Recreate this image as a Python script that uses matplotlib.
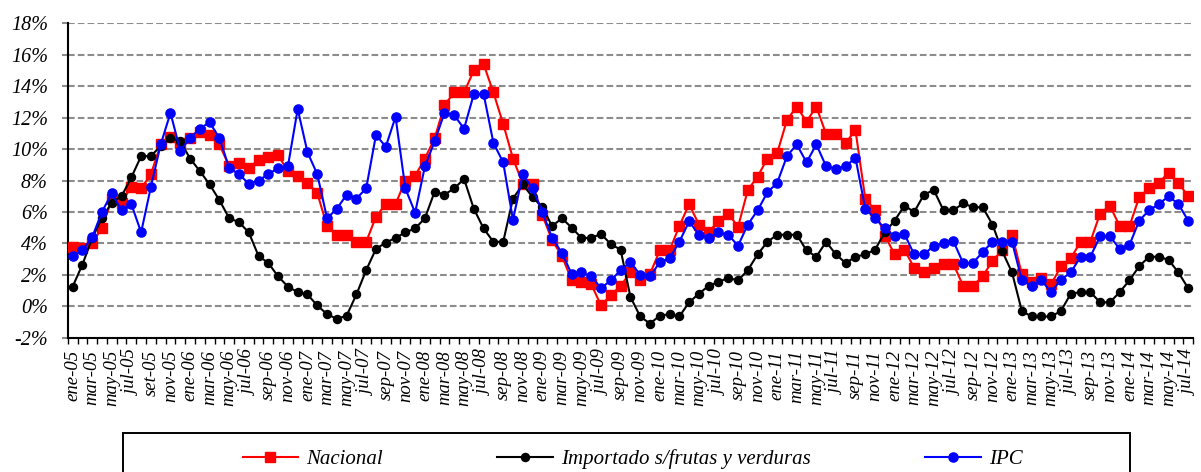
import matplotlib
matplotlib.use('Agg')
import matplotlib.pyplot as plt
from matplotlib.patches import Rectangle

nacional = [3.8, 3.7, 4.0, 5.0, 6.8, 6.6, 7.6, 7.5, 8.4, 10.3, 10.8, 10.4,
            10.7, 11.1, 10.9, 10.3, 8.9, 9.1, 8.8, 9.3, 9.5, 9.6, 8.6, 8.3,
            7.85, 7.2, 5.1, 4.55, 4.55, 4.1, 4.1, 5.7, 6.5, 6.5, 8.0, 8.3,
            9.4, 10.7, 12.8, 13.6, 13.6, 15.0, 15.4, 13.6, 11.6, 9.4, 7.8, 7.8,
            5.8, 4.2, 3.2, 1.65, 1.55, 1.4, 0.05, 0.7, 1.3, 2.15, 1.7, 2.05,
            3.55, 3.55, 5.1, 6.5, 5.2, 4.7, 5.45, 5.9, 5.05, 7.4, 8.25, 9.4,
            9.75, 11.85, 12.7, 11.75, 12.7, 10.95, 10.95, 10.4, 11.2, 6.85, 6.1, 4.5,
            3.3, 3.6, 2.45, 2.15, 2.45, 2.7, 2.7, 1.3, 1.3, 1.9, 2.9, 3.55,
            4.55, 2.05, 1.55, 1.8, 1.4, 2.55, 3.05, 4.1, 4.1, 5.9, 6.4, 5.1,
            5.1, 6.95, 7.5, 7.85, 8.5, 7.85, 7.0]

importado = [1.25, 2.65, 4.35, 5.6, 6.6, 7.0, 8.2, 9.55, 9.55, 10.2, 10.7, 10.5,
             9.4, 8.6, 7.75, 6.75, 5.6, 5.35, 4.7, 3.2, 2.75, 1.9, 1.25, 0.9,
             0.75, 0.05, -0.5, -0.8, -0.6, 0.75, 2.3, 3.65, 4.05, 4.35, 4.7, 4.95,
             5.6, 7.3, 7.1, 7.5, 8.1, 6.2, 4.95, 4.1, 4.1, 6.85, 7.75, 6.95,
             6.3, 5.1, 5.6, 5.0, 4.35, 4.35, 4.6, 3.95, 3.6, 0.6, -0.65, -1.1,
             -0.6, -0.5, -0.65, 0.25, 0.8, 1.3, 1.55, 1.8, 1.65, 2.3, 3.3, 4.1,
             4.55, 4.55, 4.55, 3.55, 3.15, 4.1, 3.3, 2.75, 3.15, 3.3, 3.6, 4.7,
             5.45, 6.4, 6.0, 7.1, 7.4, 6.1, 6.1, 6.55, 6.3, 6.3, 5.2, 3.5,
             2.15, -0.3, -0.65, -0.65, -0.65, -0.3, 0.8, 0.9, 0.9, 0.25, 0.25, 0.9,
             1.65, 2.55, 3.15, 3.15, 2.95, 2.15, 1.15]

ipc = [3.2, 3.55, 4.4, 6.0, 7.2, 6.1, 6.5, 4.7, 7.6, 10.3, 12.3, 9.9,
       10.7, 11.3, 11.7, 10.7, 8.8, 8.4, 7.8, 8.0, 8.4, 8.8, 8.9, 12.55,
       9.8, 8.4, 5.6, 6.2, 7.1, 6.85, 7.5, 10.9, 10.15, 12.05, 7.5, 5.95,
       8.9, 10.5, 12.3, 12.15, 11.3, 13.5, 13.5, 10.4, 9.15, 5.5, 8.4, 7.5,
       6.0, 4.35, 3.4, 2.05, 2.15, 1.9, 1.15, 1.65, 2.3, 2.8, 2.0, 1.9,
       2.8, 3.05, 4.1, 5.4, 4.55, 4.35, 4.7, 4.55, 3.85, 5.2, 6.1, 7.25,
       7.85, 9.55, 10.3, 9.15, 10.3, 8.9, 8.75, 8.9, 9.45, 6.2, 5.6, 4.95,
       4.45, 4.6, 3.3, 3.3, 3.85, 4.0, 4.15, 2.75, 2.75, 3.45, 4.1, 4.1,
       4.1, 1.65, 1.3, 1.65, 0.9, 1.7, 2.15, 3.15, 3.15, 4.45, 4.45, 3.65,
       3.9, 5.45, 6.1, 6.5, 7.0, 6.5, 5.45]

tick_labels = ['ene-05', 'mar-05', 'may-05', 'jul-05', 'set-05', 'nov-05',
               'ene-06', 'mar-06', 'may-06', 'jul-06', 'sep-06', 'nov-06',
               'ene-07', 'mar-07', 'may-07', 'jul-07', 'sep-07', 'nov-07',
               'ene-08', 'mar-08', 'may-08', 'jul-08', 'sep-08', 'nov-08',
               'ene-09', 'mar-09', 'may-09', 'jul-09', 'sep-09', 'nov-09',
               'ene-10', 'mar-10', 'may-10', 'jul-10', 'sep-10', 'nov-10',
               'ene-11', 'mar-11', 'may-11', 'jul-11', 'sep-11', 'nov-11',
               'ene-12', 'mar-12', 'may-12', 'jul-12', 'sep-12', 'nov-12',
               'ene-13', 'mar-13', 'may-13', 'jul-13', 'sep-13', 'nov-13',
               'ene-14', 'mar-14', 'may-14', 'jul-14']
y_ticks = [-2, 0, 2, 4, 6, 8, 10, 12, 14, 16, 18]

plt.rcParams['font.family'] = ['Liberation Serif', 'DejaVu Serif']
plt.rcParams['font.style'] = 'italic'

fig = plt.figure(figsize=(12.01, 4.72), dpi=100)
ax = fig.add_axes([0.0564, 0.2845, 0.937, 0.6661])

x = list(range(len(ipc)))
ax.plot(x, nacional, '-', color='#FF0000', lw=1.5, marker='s', markersize=7.2, label='Nacional', zorder=3)
ax.plot(x, importado, '-', color='#000000', lw=1.5, marker='o', markersize=5.8,
        label='Importado s/frutas y verduras', zorder=4)
ax.plot(x, ipc, '-', color='#0000FF', lw=1.5, marker='o', markersize=6.6, label='IPC', zorder=5)

ax.set_xlim(-0.5, len(ipc) - 0.5)
ax.set_ylim(-2, 18)

ax.set_yticks(y_ticks)
ax.set_yticklabels([f'{v}%' for v in y_ticks], fontsize=14.5)
for v in y_ticks[1:]:
    ax.axhline(v, color='#8c8c8c', lw=1.5, linestyle=(0, (3.2, 1.5)), zorder=1)

ax.set_xticks(x[::2])
ax.set_xticklabels(tick_labels, rotation=90, fontsize=13.5, va='top', ha='center')
ax.set_xticks([i - 0.5 for i in range(len(ipc) + 1)], minor=True)
ax.tick_params(axis='x', which='major', length=0, pad=8.9)
ax.tick_params(axis='x', which='minor', length=4.3, width=1, direction='out', color='black')
ax.tick_params(axis='y', length=4.3, width=1.5, direction='out', color='#8c8c8c', pad=10)

for s in ['top', 'right']:
    ax.spines[s].set_visible(False)
for s in ['left', 'bottom']:
    ax.spines[s].set_linewidth(1.5)
    ax.spines[s].set_color('black')

fig.patches.append(Rectangle((123.3 / 1201, -0.1), (1130 - 123.3) / 1201, (472 - 433.3) / 472 + 0.1,
                             transform=fig.transFigure, fill=False, edgecolor='black', lw=1.4))
fig.legend(loc='center left', bbox_to_anchor=(242.7 / 1201, 1 - 459 / 472), ncol=3, frameon=False,
           borderpad=0, borderaxespad=0, fontsize=15, handlelength=2.65, handletextpad=0.4,
           columnspacing=5.5)

plt.savefig('out.png', dpi=100)
